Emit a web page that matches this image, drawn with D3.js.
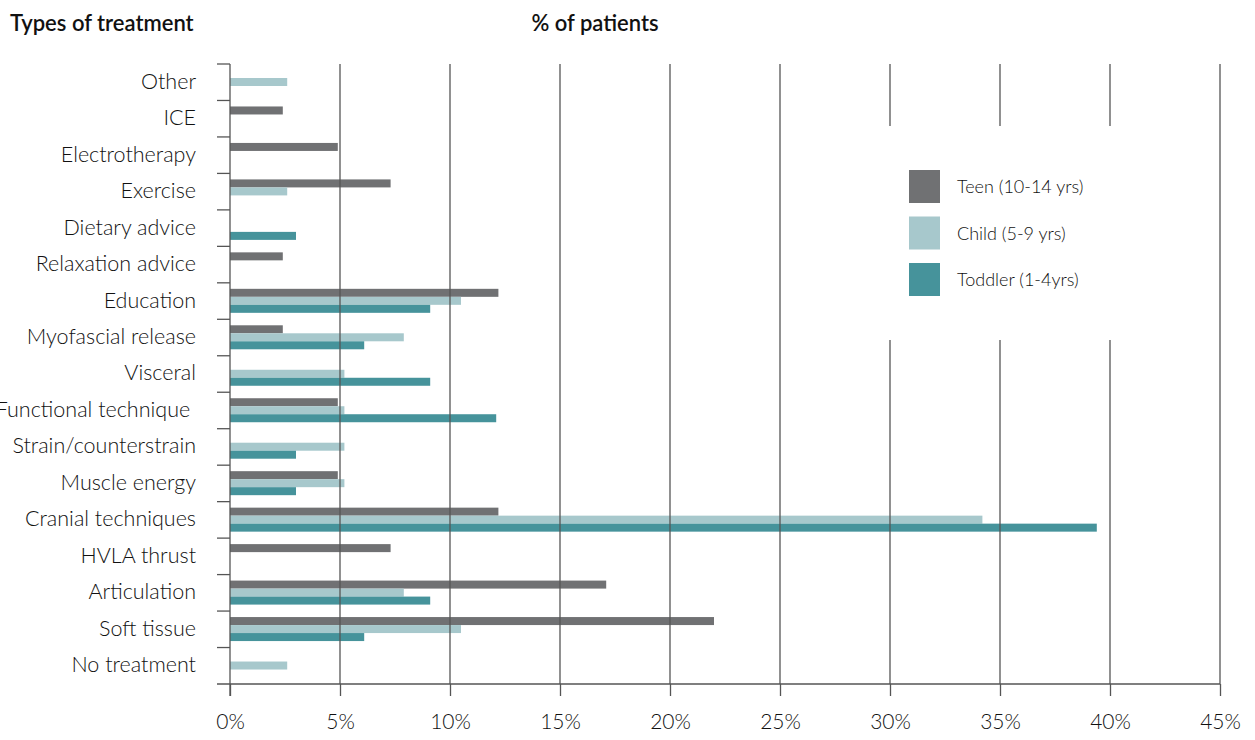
<!DOCTYPE html>
<html>
<head>
<meta charset="utf-8">
<script src="https://cdn.jsdelivr.net/npm/d3@7"></script>
<style>
  body { margin: 0; background: #fff; }
  text { font-family: Lato, "Open Sans", sans-serif; fill: #111; }
</style>
</head>
<body>
<div id="chart"></div>
<script>
// treatment types, top to bottom
var categories = ["Other", "ICE", "Electrotherapy", "Exercise", "Dietary advice",
    "Relaxation advice", "Education", "Myofascial release", "Visceral",
    "Functional technique ", "Strain/counterstrain", "Muscle energy",
    "Cranial techniques", "HVLA thrust", "Articulation", "Soft tissue", "No treatment"];

// % of patients per age group (0 = not used)
var teen =    [0, 2.4, 4.9, 7.3, 0, 2.4, 12.2, 2.4, 0, 4.9, 0, 4.9, 12.2, 7.3, 17.1, 22.0, 0];
var child =   [2.6, 0, 0, 2.6, 0, 0, 10.5, 7.9, 5.2, 5.2, 5.2, 5.2, 34.2, 0, 7.9, 10.5, 2.6];
var toddler = [0, 0, 0, 0, 3.0, 0, 9.1, 6.1, 9.1, 12.1, 3.0, 3.0, 39.4, 0, 9.1, 6.1, 0];

var seriesNames = ["Teen (10-14 yrs)", "Child (5-9 yrs)", "Toddler (1-4yrs)"];
var xTicks = [0, 5, 10, 15, 20, 25, 30, 35, 40, 45];

var colors = ["#707173", "#a7c8cc", "#46939b"];

var width = 1255, height = 740;
var margin = { top: 64, right: 35, bottom: 56, left: 230 };
var innerW = width - margin.left - margin.right,
    innerH = height - margin.top - margin.bottom;

var svg = d3.select("#chart").append("svg")
    .attr("width", width)
    .attr("height", height);

var g = svg.append("g")
    .attr("transform", "translate(" + margin.left + "," + margin.top + ")");

var x = d3.scaleLinear().domain([0, 45]).range([0, innerW]);
var y = d3.scaleBand().domain(categories).range([0, innerH]);

var barH = 8, barOffset = 6;
var series = [teen, child, toddler];

// bars
series.forEach(function (vals, si) {
    g.append("g").selectAll("rect")
        .data(categories.map(function (c, i) { return { cat: c, v: vals[i] }; })
            .filter(function (d) { return d.v > 0; }))
        .enter().append("rect")
        .attr("x", 0)
        .attr("y", function (d) { return y(d.cat) + barOffset + si * barH; })
        .attr("width", function (d) { return x(d.v); })
        .attr("height", barH)
        .attr("fill", colors[si]);
});

// legend box (gridlines break around it)
var legend = { x: 679, y: 106, gapTop: 62, gapBottom: 276 };

// vertical gridlines
xTicks.forEach(function (t) {
    if (t === 0) return;
    var px = x(t);
    var segs = (t >= 30 && t <= 40) ?
        [[0, legend.gapTop], [legend.gapBottom, innerH]] : [[0, innerH]];
    segs.forEach(function (s) {
        g.append("line")
            .attr("x1", px).attr("x2", px)
            .attr("y1", s[0]).attr("y2", s[1])
            .attr("stroke", "#555").attr("stroke-width", 1.3);
    });
});

// y axis
var yAxis = g.append("g")
    .call(d3.axisLeft(y).tickSize(0).tickPadding(34));
yAxis.select(".domain").remove();
yAxis.selectAll("text")
    .style("font-size", "21.5px")
    .style("font-weight", 300)
    .style("white-space", "pre")
    .attr("fill", "#111")
    .attr("dy", "0.3em");

g.append("line")
    .attr("x1", 0).attr("x2", 0).attr("y1", 0).attr("y2", innerH + 12)
    .attr("stroke", "#555").attr("stroke-width", 1.3);

// small separators between categories
g.append("g").selectAll("line")
    .data(categories)
    .enter().append("line")
    .attr("x1", -13).attr("x2", 0)
    .attr("y1", function (d) { return y(d); })
    .attr("y2", function (d) { return y(d); })
    .attr("stroke", "#555").attr("stroke-width", 1.3);

// x axis
var xAxis = g.append("g")
    .attr("transform", "translate(0," + innerH + ")")
    .call(d3.axisBottom(x).tickValues(xTicks).tickSize(12).tickPadding(18)
        .tickFormat(function (d) { return d + "%"; }));
xAxis.select(".domain").remove();
xAxis.selectAll(".tick line").attr("stroke", "#555").attr("stroke-width", 1.3);
xAxis.selectAll("text")
    .style("font-size", "21px")
    .style("font-weight", 300)
    .attr("fill", "#111");

g.append("line")
    .attr("x1", -13).attr("x2", innerW).attr("y1", innerH).attr("y2", innerH)
    .attr("stroke", "#555").attr("stroke-width", 1.3);

// legend
var lg = g.append("g")
    .attr("transform", "translate(" + legend.x + "," + legend.y + ")");
seriesNames.forEach(function (name, i) {
    var row = lg.append("g").attr("transform", "translate(0," + (i * 46.5) + ")");
    row.append("rect")
        .attr("width", 31).attr("height", 33)
        .attr("fill", colors[i]);
    row.append("text")
        .attr("x", 48).attr("y", 17)
        .attr("dy", "0.35em")
        .style("font-size", "18px")
        .style("font-weight", 300)
        .text(name);
});

// titles
svg.append("text")
    .attr("x", 10).attr("y", 31)
    .style("font-size", "22px")
    .style("font-weight", 600)
    .text("Types of treatment");

svg.append("text")
    .attr("x", 595).attr("y", 31)
    .attr("text-anchor", "middle")
    .style("font-size", "22px")
    .style("font-weight", 600)
    .text("% of patients");
</script>
</body>
</html>
